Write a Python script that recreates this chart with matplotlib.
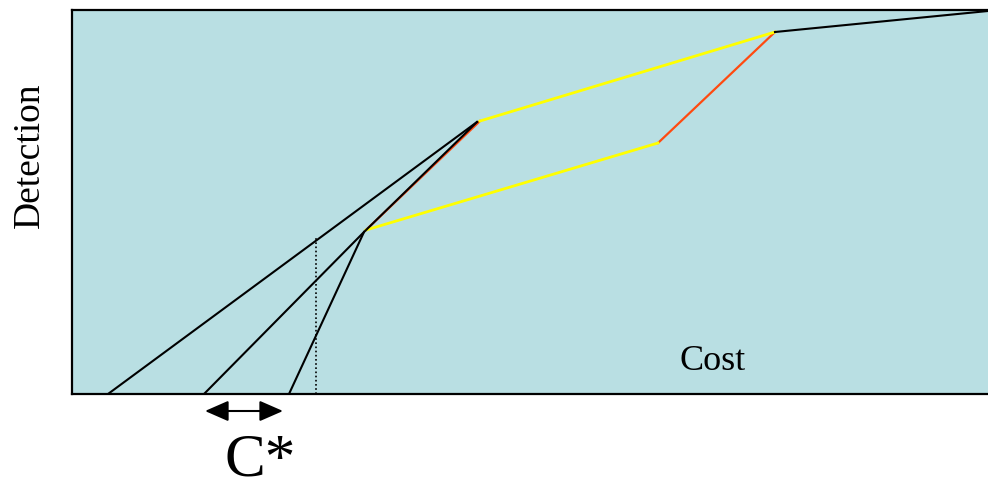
import matplotlib.pyplot as plt

# coordinates in chart units (cost to the right, detection upward)
black_a_x = [36, 405]
black_a_y = [0, 272]
black_b_x = [132, 292, 405]
black_b_y = [0, 162, 272]
black_c_x = [217, 292]
black_c_y = [0, 162]
black_top_x = [703, 916]
black_top_y = [362, 383]

yellow_up_x = [408, 703]
yellow_up_y = [273, 362]
yellow_lo_x = [294, 586]
yellow_lo_y = [164, 251]

orange_a_x = [294, 408]
orange_a_y = [164, 273]
orange_b_x = [586, 703]
orange_b_y = [251, 362]

dotted_x = [244, 244]
dotted_y = [0, 157]

cstar_from = 133
cstar_to = 211

fig = plt.figure(figsize=(9.88, 4.8), dpi=100)
ax = fig.add_axes([72/988, 86/480, 916/988, 384/480])
ax.set_facecolor('#B9DFE3')
ax.set_xlim(0, 916)
ax.set_ylim(0, 384)

ax.plot(orange_a_x, orange_a_y, color='#FF4A10', lw=1.6, zorder=2)
ax.plot(orange_b_x, orange_b_y, color='#FF4A10', lw=1.6, zorder=2)
ax.plot(yellow_up_x, yellow_up_y, color='#FFFF00', lw=2.0, zorder=2)
ax.plot(yellow_lo_x, yellow_lo_y, color='#FFFF00', lw=2.0, zorder=2)

for xs, ys in [(black_a_x, black_a_y), (black_b_x, black_b_y),
               (black_c_x, black_c_y), (black_top_x, black_top_y)]:
    ax.plot(xs, ys, color='black', lw=1.5, zorder=3)

ax.plot(dotted_x, dotted_y, color='black', lw=1.2, ls=(0, (1, 1.5)), zorder=3)

ax.set_xticks([]); ax.set_yticks([])
ax.spines['right'].set_visible(False)
for s in ['left', 'top', 'bottom']:
    ax.spines[s].set_linewidth(1.6)

serif = ['Liberation Serif', 'DejaVu Serif']
ax.text(641, 32, 'Cost', fontsize=26, family=serif, ha='center', va='center')
fig.text(30/988, 1 - 155/480, 'Detection', fontsize=27, family=serif,
         rotation=90, ha='center', va='center')

ax.annotate('', xy=(cstar_to, -17), xytext=(cstar_from, -17),
            arrowprops=dict(arrowstyle='<|-|>,head_length=0.8,head_width=0.35',
                            color='black', lw=1.5, mutation_scale=18,
                            shrinkA=0, shrinkB=0),
            annotation_clip=False)
ax.text(188, -81, 'C*', fontsize=44, family=serif, ha='center', va='baseline',
        clip_on=False)

fig.savefig('out.png', dpi=100)
